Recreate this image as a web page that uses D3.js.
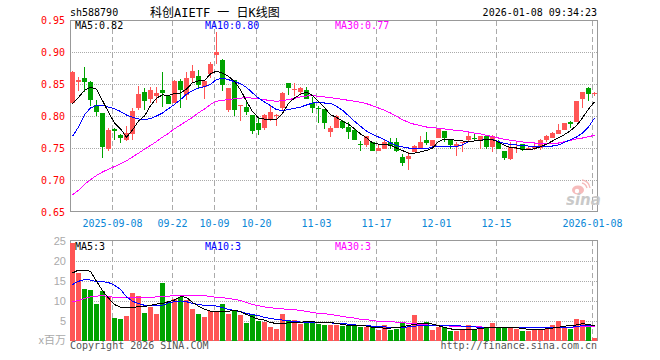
<!DOCTYPE html>
<html>
<head>
<meta charset="utf-8">
<script src="https://cdn.jsdelivr.net/npm/d3@7"></script>
<style>
body { margin: 0; background: #fff; }
svg { display: block; }
text { font-family: "DejaVu Sans Mono", monospace; font-size: 10px; }
</style>
</head>
<body>
<svg width="660" height="360"></svg>
<script>
// daily bars (88 trading days)
var opens  = [0.820,0.853,0.860,0.853,0.817,0.804,0.749,0.779,0.770,0.763,0.772,0.812,0.838,0.826,0.832,0.841,0.832,0.821,0.854,0.833,0.860,0.863,0.846,0.866,0.896,0.888,0.810,0.857,0.8165,0.8145,0.802,0.789,0.782,0.796,0.801,0.812,0.852,0.841,0.838,0.840,0.821,0.812,0.8105,0.7745,0.782,0.792,0.7835,0.7775,0.7555,0.754,0.760,0.746,0.749,0.760,0.760,0.7365,0.7335,0.744,0.748,0.763,0.7535,0.765,0.776,0.763,0.7515,0.759,0.763,0.765,0.763,0.768,0.751,0.760,0.746,0.733,0.7495,0.757,0.750,0.7505,0.7505,0.763,0.7655,0.772,0.7775,0.790,0.791,0.827,0.843,0.835];
var closes = [0.868,0.857,0.853,0.8255,0.807,0.751,0.778,0.777,0.765,0.7735,0.808,0.835,0.824,0.840,0.836,0.836,0.818,0.854,0.840,0.860,0.871,0.849,0.855,0.882,0.900,0.848,0.844,0.810,0.817,0.807,0.776,0.7785,0.802,0.806,0.802,0.8365,0.844,0.8415,0.843,0.827,0.813,0.8105,0.7885,0.781,0.8005,0.782,0.7745,0.762,0.755,0.768,0.746,0.7505,0.760,0.7535,0.746,0.727,0.738,0.7535,0.760,0.758,0.763,0.779,0.765,0.754,0.757,0.760,0.769,0.764,0.768,0.751,0.768,0.749,0.735,0.7515,0.7505,0.7475,0.7505,0.7535,0.763,0.769,0.7735,0.778,0.7885,0.788,0.824,0.838,0.835,0.836];
var highs  = [0.871,0.861,0.877,0.855,0.8255,0.804,0.782,0.781,0.772,0.785,0.813,0.847,0.843,0.845,0.846,0.869,0.833,0.857,0.858,0.869,0.879,0.872,0.857,0.885,0.932,0.889,0.844,0.857,0.817,0.824,0.802,0.797,0.8035,0.815,0.8035,0.838,0.852,0.852,0.846,0.846,0.829,0.815,0.8105,0.784,0.802,0.7945,0.791,0.780,0.7615,0.7695,0.760,0.754,0.763,0.765,0.766,0.740,0.744,0.754,0.768,0.7755,0.763,0.7805,0.776,0.763,0.760,0.760,0.7755,0.774,0.768,0.771,0.771,0.763,0.746,0.760,0.760,0.757,0.7535,0.757,0.7645,0.771,0.775,0.787,0.789,0.7915,0.824,0.838,0.846,0.838];
var lows   = [0.819,0.839,0.838,0.815,0.8005,0.734,0.745,0.762,0.758,0.761,0.763,0.810,0.809,0.820,0.820,0.8145,0.818,0.820,0.813,0.8255,0.852,0.843,0.827,0.860,0.882,0.8385,0.807,0.8005,0.792,0.802,0.7724,0.771,0.778,0.792,0.785,0.810,0.833,0.832,0.833,0.827,0.805,0.789,0.780,0.767,0.782,0.779,0.7635,0.762,0.745,0.751,0.745,0.746,0.749,0.748,0.744,0.722,0.716,0.744,0.748,0.7545,0.7525,0.765,0.760,0.748,0.738,0.743,0.760,0.762,0.748,0.748,0.743,0.748,0.7305,0.7305,0.7415,0.746,0.7475,0.7475,0.7475,0.760,0.7655,0.772,0.7775,0.781,0.790,0.813,0.824,0.832];

var ma5  = [0.819,0.829,0.840,0.845,0.842,0.824,0.806,0.789,0.780,0.767,0.778,0.792,0.800,0.816,0.828,0.833,0.832,0.835,0.836,0.842,0.852,0.855,0.855,0.866,0.870,0.867,0.862,0.854,0.841,0.823,0.807,0.797,0.795,0.795,0.794,0.804,0.820,0.828,0.834,0.837,0.832,0.823,0.813,0.802,0.798,0.792,0.787,0.780,0.772,0.766,0.758,0.756,0.756,0.754,0.750,0.746,0.742,0.742,0.744,0.746,0.750,0.760,0.764,0.763,0.762,0.761,0.760,0.761,0.762,0.763,0.763,0.759,0.754,0.751,0.750,0.748,0.747,0.749,0.752,0.756,0.761,0.766,0.771,0.777,0.785,0.797,0.811,0.822];
var ma10 = [0.768,0.783,0.802,0.8125,0.8167,0.8167,0.814,0.8115,0.807,0.8016,0.798,0.7953,0.794,0.796,0.800,0.8047,0.8115,0.818,0.8255,0.834,0.8396,0.8437,0.846,0.8495,0.857,0.8589,0.8568,0.8536,0.8505,0.8448,0.836,0.828,0.8219,0.8161,0.810,0.8083,0.810,0.812,0.814,0.8172,0.8203,0.8214,0.8203,0.820,0.815,0.809,0.8005,0.7917,0.7839,0.7766,0.7714,0.7672,0.763,0.7578,0.7536,0.7516,0.750,0.750,0.7495,0.749,0.7516,0.7526,0.7526,0.7526,0.7526,0.7547,0.7604,0.761,0.762,0.7635,0.763,0.7604,0.7568,0.7557,0.7547,0.7536,0.7531,0.7526,0.7526,0.7526,0.7531,0.7547,0.7589,0.763,0.7672,0.7734,0.7828,0.797];
var ma30 = [0.677,0.684,0.693,0.7005,0.707,0.7125,0.717,0.721,0.7255,0.730,0.736,0.742,0.748,0.754,0.760,0.767,0.773,0.780,0.786,0.792,0.798,0.805,0.811,0.818,0.823,0.8245,0.8255,0.827,0.828,0.8286,0.828,0.827,0.8255,0.824,0.823,0.824,0.8255,0.8276,0.8297,0.8312,0.8318,0.8307,0.8297,0.8286,0.8276,0.826,0.8245,0.823,0.8214,0.8193,0.8161,0.8125,0.8089,0.8047,0.7995,0.7943,0.790,0.787,0.7849,0.7828,0.7818,0.7807,0.7797,0.7786,0.7776,0.7766,0.775,0.7734,0.7719,0.7698,0.7677,0.7656,0.7635,0.762,0.7609,0.7594,0.7583,0.7578,0.7573,0.7568,0.7568,0.7578,0.7599,0.762,0.7641,0.7656,0.7677,0.7698];

// volume in millions (x百万)
var volumes = [24.3,16.8,12.8,12.6,9.1,12.3,11.1,5.6,5.3,6.1,11.8,11.1,6.8,8.3,6.6,14.3,9.6,10.3,10.8,10.1,7.8,6.6,5.8,7.3,7.3,9.1,6.6,7.6,6.3,4.3,6.3,4.8,4.6,3.3,2.8,6.6,5.1,5.1,4.1,4.8,4.6,4.1,3.8,3.8,3.8,3.75,3.8,3.8,3.3,3.3,3.3,2.6,3.8,2.6,2.8,4.6,3.3,6.3,3.8,4.6,2.6,3.3,3.5,2.3,2.3,2.8,3.8,2.8,3.1,3.3,4.3,3.3,3.3,3.3,2.8,2.3,2.3,2.8,2.8,2.8,3.8,4.8,3.3,3.0,5.3,5.1,3.8,0.6];
var volMa5  = [16.9,17.6,17.6,17.3,14.8,12.5,10.6,9.0,8.3,8.2,8.2,8.5,8.5,8.8,9.1,9.25,9.7,10.1,11.0,10.8,9.5,8.6,7.8,7.3,7.3,7.3,7.3,7.6,7.2,6.5,5.9,5.3,5.1,4.5,4.25,4.25,4.4,4.5,4.5,4.8,4.7,4.5,4.5,4.5,4.25,4.0,3.8,3.8,3.75,3.6,3.3,3.2,3.1,3.1,3.25,3.4,3.75,4.0,4.25,4.3,4.1,3.7,3.25,2.9,2.75,2.75,2.75,2.8,3.0,3.2,3.3,3.3,3.3,3.25,3.2,3.0,2.8,2.8,2.8,2.9,3.1,3.3,3.6,3.7,3.9,4.2,4.0,3.7];
var volMa10 = [14.0,14.8,15.25,15.1,14.7,14.7,14.5,13.8,12.8,10.9,9.8,9.25,8.8,8.7,8.7,8.8,9.4,9.7,9.9,9.7,9.25,9.0,8.8,8.8,8.6,8.2,7.8,7.5,7.2,6.75,6.5,6.2,5.8,5.5,5.25,5.1,4.9,4.75,4.6,4.5,4.4,4.4,4.4,4.4,4.3,4.2,4.1,3.9,3.75,3.7,3.6,3.5,3.4,3.3,3.3,3.3,3.4,3.6,3.7,3.75,3.8,3.8,3.8,3.75,3.7,3.6,3.5,3.4,3.3,3.25,3.25,3.25,3.25,3.25,3.2,3.2,3.2,3.2,3.2,3.2,3.2,3.25,3.3,3.3,3.5,3.7,3.8,3.8];
var volMa30 = [9.7,10.0,10.5,10.9,11.1,11.2,11.0,10.8,10.75,10.75,10.75,10.75,10.75,10.8,10.9,11.0,11.1,11.2,11.25,11.25,11.25,11.25,11.2,11.0,10.8,10.7,10.5,10.25,10.0,9.5,9.0,8.7,8.4,8.2,8.0,7.9,7.8,7.7,7.5,7.25,7.0,6.8,6.7,6.5,6.25,6.0,5.8,5.6,5.3,5.2,5.0,4.8,4.75,4.7,4.6,4.5,4.3,4.2,4.0,3.9,3.8,3.75,3.7,3.6,3.6,3.5,3.5,3.4,3.4,3.3,3.3,3.3,3.25,3.25,3.25,3.25,3.2,3.2,3.25,3.25,3.25,3.3,3.3,3.3,3.4,3.4,3.5,3.5];

// date ticks (index of the trading day) and their labels
var tickIdx = [7, 17, 24, 31, 41, 51, 61, 71, 87];
var tickLabels = ["2025-09-08", "09-22", "10-09", "10-20", "11-03", "11-17", "12-01", "12-15", "2026-01-08"];
var priceTicks = [0.95, 0.90, 0.85, 0.80, 0.75, 0.70, 0.65];
var volTicks = [25, 20, 15, 10, 5];

var RED = "#ff5555", GREEN = "#00a300", GRID = "#aaa";

var svg = d3.select("svg");
var n = closes.length;

var x = d3.scaleLinear().domain([0, n]).range([70, 70 + 6 * n]); // 6px per day
var y = d3.scaleLinear().domain([0.65, 0.95]).range([212, 20]);
var yv = d3.scaleLinear().domain([0, 25]).range([340.5, 240.5]);

var px = function (v) { return Math.round(v) + 0.5; };

// ---------- grids ----------
function grid(top, bottom, yScale, ticks) {
    var g = svg.append("g");
    g.selectAll(".h").data(ticks).enter().append("line")
        .attr("x1", 70).attr("x2", 597)
        .attr("y1", function (d) { return px(yScale(d)); })
        .attr("y2", function (d) { return px(yScale(d)); })
        .attr("stroke", GRID).attr("stroke-dasharray", "1,1");
    g.selectAll(".v").data(tickIdx).enter().append("line")
        .attr("x1", function (d) { return px(x(d)); })
        .attr("x2", function (d) { return px(x(d)); })
        .attr("y1", top).attr("y2", bottom)
        .attr("stroke", GRID).attr("stroke-dasharray", "5,3");
}
grid(21, 211, y, [0.90, 0.85, 0.80, 0.75, 0.70]);
grid(241, 340, yv, [20, 15, 10, 5]);

// frames
svg.append("rect").attr("x", 70.5).attr("y", 20.5).attr("width", 527).attr("height", 191)
    .attr("fill", "none").attr("stroke", "#999");
svg.append("rect").attr("x", 70.5).attr("y", 240.5).attr("width", 527).attr("height", 100)
    .attr("fill", "none").attr("stroke", "#999");

// sina watermark
var wm = svg.append("g").attr("opacity", 0.9);
wm.append("ellipse").attr("cx", 578).attr("cy", 190).attr("rx", 6).attr("ry", 4.5).attr("fill", "#f6b4b4");
wm.append("circle").attr("cx", 577).attr("cy", 191).attr("r", 2.2).attr("fill", "#fff");
wm.append("path").attr("d", "M582,183 q4,1 5,5 M582,180 q7,1 8,8").attr("fill", "none").attr("stroke", "#f6b4b4").attr("stroke-width", 1.3);
wm.append("text").attr("x", 566).attr("y", 205).text("sina")
    .style("font-family", "'DejaVu Sans', sans-serif").style("font-size", "15px")
    .style("font-style", "italic").style("font-weight", "bold").attr("fill", "#c4c4c4");

// ---------- price axis labels ----------
var ay = svg.append("g").attr("transform", "translate(70,0)")
    .call(d3.axisLeft(y).tickValues(priceTicks).tickSize(0).tickPadding(5).tickFormat(d3.format(".2f")));
ay.select(".domain").remove();
ay.selectAll("text").attr("fill", "#f00").style("font-family", "'DejaVu Sans Mono', monospace").style("font-size", "10px").attr("dy", "0.35em");

// date labels
var ax = svg.append("g").attr("transform", "translate(0,211)")
    .call(d3.axisBottom(x).tickValues(tickIdx).tickSize(0).tickPadding(9)
        .tickFormat(function (d, i) { return tickLabels[i]; }));
ax.select(".domain").remove();
ax.selectAll("text").attr("fill", "#0a86d6").style("font-family", "'DejaVu Sans Mono', monospace").style("font-size", "10px");

// volume axis labels
var avy = svg.append("g").attr("transform", "translate(70,0)")
    .call(d3.axisLeft(yv).tickValues(volTicks).tickSize(0).tickPadding(4));
avy.select(".domain").remove();
avy.selectAll("text").attr("fill", "#aaa").style("font-family", "'Liberation Sans', Arial, sans-serif").style("font-size", "11px");

// ---------- candles ----------
var candles = svg.append("g").selectAll("g").data(d3.range(n)).enter().append("g")
    .attr("shape-rendering", "crispEdges");
candles.append("line")
    .attr("x1", function (i) { return x(i) + 2.5; })
    .attr("x2", function (i) { return x(i) + 2.5; })
    .attr("y1", function (i) { return y(highs[i]); })
    .attr("y2", function (i) { return y(lows[i]); })
    .attr("stroke", function (i) { return closes[i] >= opens[i] ? RED : GREEN; });
candles.append("rect")
    .attr("x", function (i) { return x(i); })
    .attr("width", 5)
    .attr("y", function (i) { return y(Math.max(opens[i], closes[i])); })
    .attr("height", function (i) { return Math.max(1, Math.abs(y(opens[i]) - y(closes[i]))); })
    .attr("fill", function (i) { return closes[i] >= opens[i] ? RED : GREEN; });

// ---------- volume bars ----------
svg.append("g").selectAll("rect").data(d3.range(n)).enter().append("rect")
    .attr("shape-rendering", "crispEdges")
    .attr("x", function (i) { return x(i); })
    .attr("width", 5)
    .attr("y", function (i) { return yv(volumes[i]); })
    .attr("height", function (i) { return 340.5 - yv(volumes[i]); })
    .attr("fill", function (i) { return closes[i] >= opens[i] ? RED : GREEN; });

// ---------- moving averages ----------
function maLine(values, yScale, color) {
    var line = d3.line()
        .x(function (d, i) { return x(i) + 2.5; })
        .y(function (d) { return yScale(d); });
    svg.append("path").datum(values).attr("d", line)
        .attr("fill", "none").attr("stroke", color).attr("stroke-width", 1)
        .attr("shape-rendering", "crispEdges");
}
maLine(ma30, y, "#f0f");
maLine(ma10, y, "#00f");
maLine(ma5, y, "#000");
maLine(volMa30, yv, "#f0f");
maLine(volMa10, yv, "#00f");
maLine(volMa5, yv, "#000");

// ---------- texts ----------
function label(tx, ty, str, color, anchor) {
    return svg.append("text").attr("x", tx).attr("y", ty).attr("fill", color || "#000")
        .attr("text-anchor", anchor || "start").text(str);
}
label(70, 16, "sh588790");
label(150, 17, "科创AIETF 一 日K线图").style("font-family", "'DejaVu Sans Mono', 'Noto Sans CJK SC', monospace").style("font-size", "12px");
label(597, 16, "2026-01-08 09:34:23", "#000", "end");

label(75, 29, "MA5:" + d3.format(".2f")(ma5[n - 1]));
label(205, 29, "MA10:" + d3.format(".2f")(ma10[n - 1]), "#00f");
label(335, 29, "MA30:" + d3.format(".2f")(ma30[n - 1]), "#f0f");

label(75, 250, "MA5:3");
label(205, 250, "MA10:3", "#00f");
label(335, 250, "MA30:3", "#f0f");

label(66, 344, "x百万", "#aaa", "end").style("font-family", "'Noto Sans CJK SC', sans-serif").style("font-size", "11px");
label(70, 349, "Copyright 2026 SINA.COM", "#555");
label(597, 349, "http://finance.sina.com.cn", "#555", "end");
</script>
</body>
</html>
